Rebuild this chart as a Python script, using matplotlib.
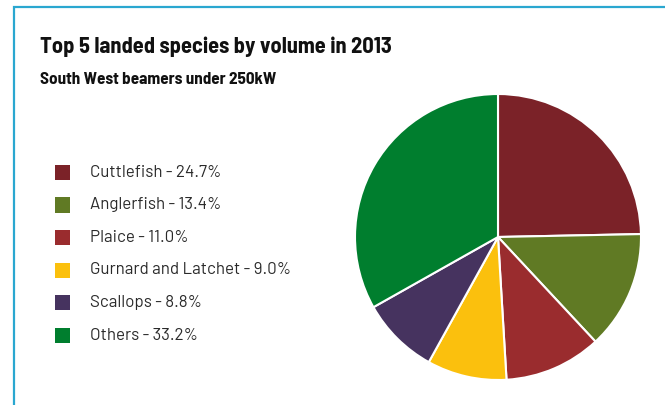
import matplotlib
matplotlib.use("Agg")
import matplotlib.pyplot as plt
from matplotlib.patches import Rectangle

species = ["Cuttlefish", "Anglerfish", "Plaice", "Gurnard and Latchet", "Scallops", "Others"]
shares = [24.7, 13.4, 11.0, 9.0, 8.8, 33.2]
colors = ["#7B2228", "#607A24", "#9A2C2E", "#FBC00D", "#46335F", "#007E2E"]
title = "Top 5 landed species by volume in 2013"
subtitle = "South West beamers under 250kW"

FONT = ["Barlow Semi Condensed", "DejaVu Sans"]
FONT_LEG = ["Barlow", "DejaVu Sans"]

W, H = 665, 405
fig = plt.figure(figsize=(W / 100, H / 100), dpi=100)
fig.patch.set_facecolor("white")

# frame (clipped at right and bottom)
fig.add_artist(Rectangle((14 / W, -0.1), 1.2, (H - 7) / H + 0.1, transform=fig.transFigure,
                         fill=False, edgecolor="#2AA7D0", linewidth=1.6))

fig.text(40 / W, 1 - 47 / H, title, fontsize=16.1, fontweight="bold", va="center", ha="left",
         family=FONT, color="#111111")
fig.text(40 / W, 1 - 80 / H, subtitle, fontsize=12.3, fontweight="bold", va="center", ha="left",
         family=FONT, color="#111111")

# legend
y0, dy = 172.5, 32.5
for i, (name, val, c) in enumerate(zip(species, shares, colors)):
    yc = y0 + i * dy
    fig.add_artist(Rectangle((55 / W, 1 - (yc + 7.5) / H), 15 / W, 15 / H,
                             transform=fig.transFigure, facecolor=c, edgecolor="none"))
    fig.text(90 / W, 1 - yc / H, f"{name} - {val:.1f}%", fontsize=12.2, va="center", ha="left",
             family=FONT_LEG, color="#2A2A2A")

# pie
cx, cy, r = 498, 237, 143
ax = fig.add_axes([(cx - r) / W, 1 - (cy + r) / H, 2 * r / W, 2 * r / H])
ax.pie(shares, colors=colors, startangle=90, counterclock=False, radius=1,
       wedgeprops=dict(edgecolor="white", linewidth=1.5))
ax.set_xlim(-1, 1)
ax.set_ylim(-1, 1)
ax.set_aspect("equal")
ax.axis("off")

fig.savefig("out.png", dpi=100)
